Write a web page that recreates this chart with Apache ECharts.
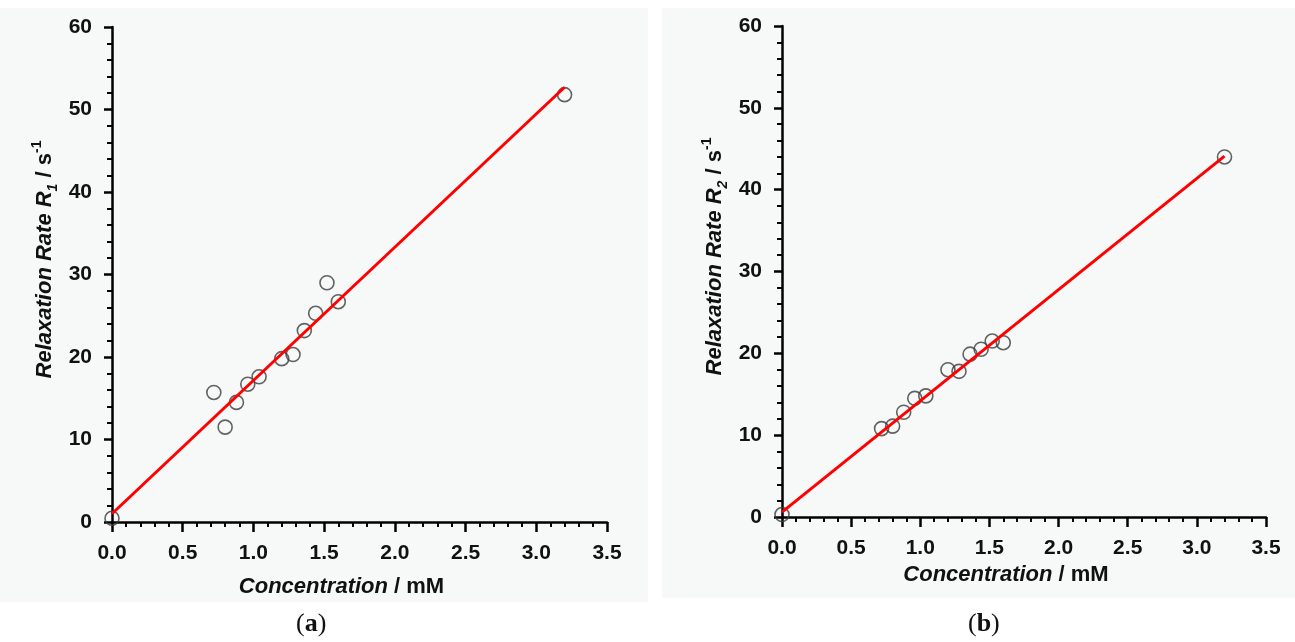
<!DOCTYPE html>
<html>
<head>
<meta charset="UTF-8">
<title>Relaxation rates</title>
<script src="https://cdn.jsdelivr.net/npm/echarts@6/dist/echarts.min.js"></script>
<style>
  html, body { margin: 0; padding: 0; background: #ffffff; }
  #main { width: 1295px; height: 642px; }
</style>
</head>
<body>
<div id="main"></div>
<script type="text/javascript">
    // concentration / mM (same samples for both panels)
    var conc = [0, 0.72, 0.80, 0.88, 0.96, 1.04, 1.20, 1.28, 1.36, 1.44, 1.52, 1.60, 3.20];
    // relaxation rates
    var r1 = [0.45, 15.7, 11.5, 14.5, 16.7, 17.6, 19.8, 20.3, 23.2, 25.3, 29.0, 26.7, 51.8];
    var r2 = [0.3, 10.8, 11.1, 12.8, 14.5, 14.8, 18.0, 17.8, 19.9, 20.5, 21.5, 21.3, 44.0];
    // linear fit end points
    var fitX = [0, 3.2];
    var fit1 = [1.0, 52.7];
    var fit2 = [0.6, 44.1];
    var xTicks = ['0.0', '0.5', '1.0', '1.5', '2.0', '2.5', '3.0', '3.5'];

    var FONT = 'Liberation Sans, Arial, sans-serif';

    function pairs(xs, ys) {
        var out = [];
        for (var i = 0; i < xs.length; i++) out.push([xs[i], ys[i]]);
        return out;
    }

    function xAxisOf(idx, gap) {
        return {
            gridIndex: idx, type: 'value', min: 0, max: 3.5, interval: 0.5,
            axisLine: { onZero: false, lineStyle: { color: '#000', width: 2.5 } },
            axisTick: { length: 10, lineStyle: { color: '#000', width: 2.5 } },
            minorTick: { show: true, splitNumber: 5, length: 5, lineStyle: { color: '#000', width: 2 } },
            splitLine: { show: false },
            axisLabel: {
                margin: 21, fontSize: 21, fontWeight: 'bold', fontFamily: FONT, color: '#111',
                formatter: function (v) { return xTicks[Math.round(v / 0.5)]; }
            },
            name: '{i|Concentration}{n| / mM}',
            nameLocation: 'middle', nameGap: gap,
            nameTextStyle: {
                padding: [0, 36, 0, 0],
                rich: {
                    i: { fontSize: 22, fontWeight: 'bold', fontStyle: 'italic', fontFamily: FONT, color: '#111' },
                    n: { fontSize: 22, fontWeight: 'bold', fontFamily: FONT, color: '#111' }
                }
            }
        };
    }

    function yAxisOf(idx, sub) {
        return {
            gridIndex: idx, type: 'value', min: 0, max: 60, interval: 10,
            axisLine: { onZero: false, lineStyle: { color: '#000', width: 2.5 } },
            axisTick: { length: 8, lineStyle: { color: '#000', width: 2.5 } },
            minorTick: { show: true, splitNumber: 5, length: 5, lineStyle: { color: '#000', width: 2 } },
            splitLine: { show: false },
            axisLabel: { margin: 20, fontSize: 21, fontWeight: 'bold', fontFamily: FONT, color: '#111' },
            name: '{i|Relaxation Rate R}{sub|' + sub + '}{n| / s}{sup|-1}',
            nameLocation: 'middle', nameGap: 52, nameRotate: 90,
            nameTextStyle: {
                padding: [0, 0, 0, 30],
                rich: {
                    i: { fontSize: 22, fontWeight: 'bold', fontStyle: 'italic', fontFamily: FONT, color: '#111', lineHeight: 30 },
                    sub: { fontSize: 14, fontWeight: 'bold', fontStyle: 'italic', fontFamily: FONT, color: '#111', lineHeight: 13, verticalAlign: 'bottom' },
                    n: { fontSize: 22, fontWeight: 'bold', fontFamily: FONT, color: '#111', lineHeight: 30 },
                    sup: { fontSize: 14, fontWeight: 'bold', fontFamily: FONT, color: '#111', lineHeight: 13, verticalAlign: 'top' }
                }
            }
        };
    }

    function dots(idx, ys) {
        return {
            type: 'scatter', xAxisIndex: idx, yAxisIndex: idx, z: 2,
            symbol: 'circle', symbolSize: 14,
            itemStyle: { color: 'rgba(0,0,0,0)', borderColor: '#3c3c3c', borderWidth: 1.6 },
            data: pairs(conc, ys)
        };
    }

    function fit(idx, ys) {
        return {
            type: 'line', xAxisIndex: idx, yAxisIndex: idx, z: 3,
            showSymbol: false, symbol: 'none',
            lineStyle: { color: '#ff0000', width: 3 },
            data: pairs(fitX, ys)
        };
    }

    var myChart = echarts.init(document.getElementById('main'));
    var option = {
        animation: false,
        backgroundColor: '#ffffff',
        grid: [
            { left: 112, top: 27, width: 495, height: 495, outerBoundsMode: 'none' },
            { left: 782, top: 26, width: 484, height: 491, outerBoundsMode: 'none' }
        ],
        xAxis: [xAxisOf(0, 54), xAxisOf(1, 46)],
        yAxis: [yAxisOf(0, '1'), yAxisOf(1, '2')],
        series: [dots(0, r1), fit(0, fit1), dots(1, r2), fit(1, fit2)],
        graphic: [
            { type: 'rect', z: -10, silent: true, shape: { x: 0, y: 8, width: 648, height: 594 }, style: { fill: '#f7f8f8' } },
            { type: 'rect', z: -10, silent: true, shape: { x: 662, y: 8, width: 633, height: 590 }, style: { fill: '#f7f8f8' } },
            {
                type: 'text', left: 296, top: 611,
                style: {
                    text: '{p|(}{b|a}{p|)}',
                    rich: {
                        p: { fontSize: 26, fontFamily: 'Liberation Serif, serif', fill: '#111' },
                        b: { fontSize: 26, fontWeight: 'bold', fontFamily: 'Liberation Serif, serif', fill: '#111' }
                    }
                }
            },
            {
                type: 'text', left: 968, top: 611,
                style: {
                    text: '{p|(}{b|b}{p|)}',
                    rich: {
                        p: { fontSize: 26, fontFamily: 'Liberation Serif, serif', fill: '#111' },
                        b: { fontSize: 26, fontWeight: 'bold', fontFamily: 'Liberation Serif, serif', fill: '#111' }
                    }
                }
            }
        ]
    };
    myChart.setOption(option);
</script>
</body>
</html>
